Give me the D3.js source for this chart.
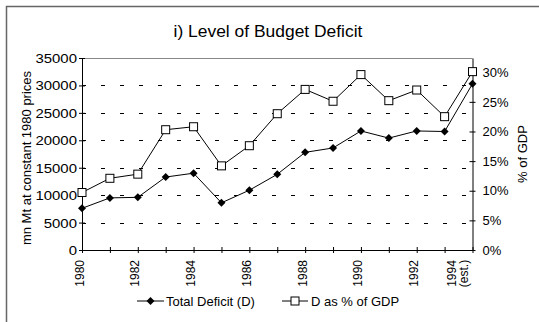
<!DOCTYPE html>
<html>
<head>
<meta charset="utf-8">
<script src="https://cdn.jsdelivr.net/npm/d3@7"></script>
<style>
  html, body { margin: 0; padding: 0; background: #fff; }
  svg { display: block; font-family: "Liberation Sans", Arial, sans-serif; }
</style>
</head>
<body>
<svg id="chart" width="539" height="322"></svg>
<script>
// Years along the category axis
const years = ["1980","1981","1982","1983","1984","1985","1986","1987","1988","1989","1990","1991","1992","1993","1994"];
// Total budget deficit, mn Mt at constant 1980 prices (left axis)
const totalDeficit = [7600, 9500, 9600, 13300, 14000, 8600, 10900, 13800, 17800, 18600, 21700, 20400, 21700, 21600, 30300];
// Deficit as a share of GDP (right axis)
const deficitPctGDP = [0.097, 0.121, 0.128, 0.203, 0.208, 0.142, 0.176, 0.230, 0.271, 0.251, 0.296, 0.252, 0.270, 0.225, 0.301];
// Axis ticks
const leftTicks = [0, 5000, 10000, 15000, 20000, 25000, 30000, 35000];
const rightTicks = [0, 0.05, 0.10, 0.15, 0.20, 0.25, 0.30];
const gridTicks = [5000, 10000, 15000, 20000, 25000, 30000];
const xLabelYears = ["1980","1982","1984","1986","1988","1990","1992"];

const svg = d3.select("#chart");

// Frame around the whole figure
svg.append("path")
  .attr("d", "M6.5,322 L6.5,6.5 L539,6.5")
  .attr("fill", "none").attr("stroke", "#666").attr("stroke-width", 1.5);

const plot = { left: 82, right: 472.5, top: 58, bottom: 250 };

const x = d3.scalePoint().domain(years).range([plot.left, plot.right]);
const yL = d3.scaleLinear().domain([0, 35000]).range([plot.bottom, plot.top]);
const yR = d3.scaleLinear().domain([0, 0.324]).range([plot.bottom, plot.top]);

// Title
svg.append("text")
  .attr("transform", "translate(268,37) scale(1.09,1)")
  .attr("text-anchor", "middle")
  .attr("font-size", 16)
  .text("i) Level of Budget Deficit");

// Dashed grid lines
svg.append("g").selectAll("line").data(gridTicks).join("line")
  .attr("x1", plot.left).attr("x2", plot.right)
  .attr("y1", d => Math.round(yL(d)) + 0.5).attr("y2", d => Math.round(yL(d)) + 0.5)
  .attr("stroke", "#000").attr("stroke-width", 1)
  .attr("stroke-dasharray", "4,15");

// Top border of the plot area
svg.append("line")
  .attr("x1", plot.left).attr("x2", plot.right)
  .attr("y1", plot.top + 0.5).attr("y2", plot.top + 0.5)
  .attr("stroke", "#888").attr("stroke-width", 1);

// Left axis
const gL = svg.append("g").attr("transform", `translate(${plot.left},0)`)
  .call(d3.axisLeft(yL).tickValues(leftTicks).tickSize(0).tickPadding(5).tickFormat(d3.format("d")));
gL.select(".domain").attr("stroke", "#000");
gL.selectAll(".tick").append("line").attr("x1", -3).attr("x2", 3).attr("stroke", "#000");
gL.selectAll("text")
  .attr("x", null).attr("dy", null)
  .attr("transform", "translate(-5,4.5) scale(1.15,1)")
  .attr("font-size", 13).attr("font-family", "Liberation Sans, Arial, sans-serif").attr("fill", "#000");

// Right axis
const gR = svg.append("g").attr("transform", `translate(${plot.right},0)`)
  .call(d3.axisRight(yR).tickValues(rightTicks).tickSize(0).tickPadding(10).tickFormat(d3.format(".0%")));
gR.select(".domain").attr("stroke", "#000");
gR.selectAll(".tick").append("line").attr("x1", -3).attr("x2", 3).attr("stroke", "#000");
gR.selectAll("text").attr("font-size", 13).attr("font-family", "Liberation Sans, Arial, sans-serif").attr("fill", "#000");

// Bottom axis
const gB = svg.append("g").attr("transform", `translate(0,${plot.bottom})`)
  .call(d3.axisBottom(x).tickSize(0).tickFormat(""));
gB.select(".domain").attr("stroke", "#000");
gB.selectAll(".tick").append("line").attr("y1", -3).attr("y2", 3).attr("stroke", "#000");

// Rotated year labels
svg.append("g").selectAll("text").data(xLabelYears).join("text")
  .attr("transform", d => `translate(${x(d) + 1.5},${plot.bottom + 10}) rotate(-90)`)
  .attr("text-anchor", "end")
  .attr("font-size", 12)
  .text(d => d);
// Last year carries a second line
const lastLab = svg.append("g")
  .attr("transform", `translate(${x("1994")},${plot.bottom + 23.5}) rotate(-90)`);
lastLab.append("text").attr("x", 0).attr("y", -17).attr("text-anchor", "middle").attr("font-size", 12).text("1994");
lastLab.append("text").attr("x", 0).attr("y", -5).attr("text-anchor", "middle").attr("font-size", 12).text("(est.)");

// Axis titles
svg.append("text")
  .attr("transform", "translate(30.5,158) rotate(-90)")
  .attr("text-anchor", "middle").attr("font-size", 13)
  .text("mn Mt at constant 1980 prices");
svg.append("text")
  .attr("transform", "translate(526.5,154) rotate(-90)")
  .attr("text-anchor", "middle").attr("font-size", 13)
  .text("% of GDP");

// Series lines
const lineL = d3.line().x((d, i) => x(years[i])).y(d => yL(d));
const lineR = d3.line().x((d, i) => x(years[i])).y(d => yR(d));

svg.append("path").datum(totalDeficit).attr("d", lineL)
  .attr("fill", "none").attr("stroke", "#000").attr("stroke-width", 1);
svg.append("path").datum(deficitPctGDP).attr("d", lineR)
  .attr("fill", "none").attr("stroke", "#000").attr("stroke-width", 1);

const diamond = d3.symbol().type(d3.symbolSquare).size(32);

svg.append("g").selectAll("path").data(totalDeficit).join("path")
  .attr("d", diamond)
  .attr("transform", (d, i) => `translate(${x(years[i])},${yL(d)}) rotate(45)`)
  .attr("fill", "#000");

svg.append("g").selectAll("rect").data(deficitPctGDP).join("rect")
  .attr("x", (d, i) => x(years[i]) - 4).attr("y", d => yR(d) - 4)
  .attr("width", 8).attr("height", 8)
  .attr("fill", "#fff").attr("stroke", "#000").attr("stroke-width", 1);

// Legend
const lg = svg.append("g").attr("transform", "translate(0,301)");
lg.append("line").attr("x1", 137).attr("x2", 164).attr("stroke", "#000");
lg.append("path").attr("d", diamond).attr("transform", "translate(150.5,0) rotate(45)").attr("fill", "#000");
lg.append("text").attr("x", 166).attr("y", 4.5).attr("font-size", 13).text("Total Deficit (D)");
lg.append("line").attr("x1", 282).attr("x2", 308).attr("stroke", "#000");
lg.append("rect").attr("x", 291).attr("y", -4).attr("width", 8).attr("height", 8).attr("fill", "#fff").attr("stroke", "#000");
lg.append("text").attr("x", 311).attr("y", 4.5).attr("font-size", 13).text("D as % of GDP");
</script>
</body>
</html>
